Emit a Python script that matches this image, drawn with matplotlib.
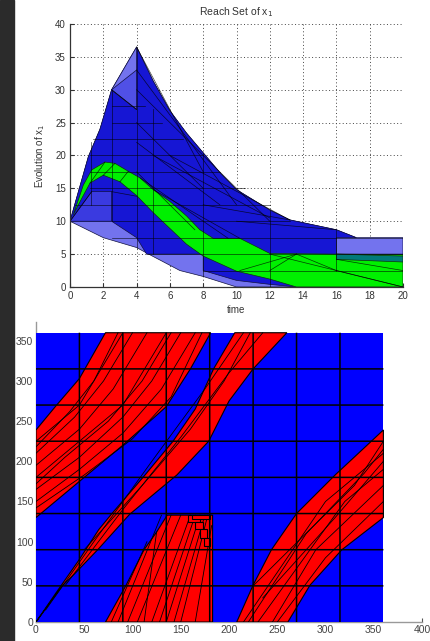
import matplotlib
matplotlib.use("Agg")
import matplotlib.pyplot as plt
from matplotlib.patches import Polygon, Rectangle

plt.rcParams['font.family'] = ['Liberation Sans', 'DejaVu Sans']

# ---------------- top panel data (time, x1) ----------------
env_t = [0, 1.1, 1.8, 2.5, 4.0, 5.0, 6.0, 7.0, 8.0, 9.0, 10.0, 12.0, 13.2, 16.0, 17.2, 20, 20, 13.6, 10.0, 8.0, 6.6, 4.8, 4.0, 2.0]
env_y = [10, 19.8, 24, 30, 36.5, 31.3, 26.8, 23.4, 20.4, 17.4, 14.8, 11.7, 10.2, 8.7, 7.5, 7.5, 0, 0, 0, 1.6, 2.5, 4.9, 6.0, 7.5]

dark_t = [0, 1.1, 1.8, 2.5, 4.0, 4.0, 5.0, 6.0, 7.0, 8.0, 9.0, 10.0, 12.0, 13.2, 16.0, 17.2, 16, 16, 20, 20,
          13.6, 12.0, 10.0, 8.0, 8.0, 4.6, 4.0, 2.5]
dark_y = [10, 19.8, 24, 30, 27, 36.5, 31.3, 26.8, 23.4, 20.4, 17.4, 14.8, 11.7, 10.2, 8.7, 7.5, 7.5, 5, 5, 0,
          0, 0.4, 1.0, 2.5, 5, 5, 7.5, 10]

mid_t = [0, 1.3, 2.5, 2.5]
mid_y = [10, 14.5, 14.5, 10]

lightri_t = [2.5, 4.0, 4.0]
lightri_y = [30, 36.5, 27]
semitri_t = [2.5, 4.0, 4.0]
semitri_y = [30, 33, 27]

green_t = [0.2, 0.8, 1.3, 2.1, 2.7, 3.5, 4.2, 5.0, 6.0, 7.0, 7.8, 8.6, 10.2, 12.0, 16.0, 20.0,
           20.0, 13.6, 12.0, 10.0, 8.0, 7.0, 6.0, 5.0, 4.0, 3.0, 2.0, 1.2, 0.5]
green_y = [11.0, 15.5, 17.8, 19.0, 18.8, 17.6, 16.6, 14.8, 13.0, 10.8, 8.7, 7.4, 7.4, 5.1, 5.0, 4.9,
           0.0, 0.0, 1.2, 2.4, 4.7, 6.5, 8.9, 11.3, 13.9, 16.0, 17.0, 15.8, 12.5]

teal_t = [16, 20, 20, 16]
teal_y = [5.0, 4.7, 3.8, 4.2]

# mesh edges: (t0, y0, t1, y1)
mesh_segments = [
    (2.5, 27.5, 4.5, 27.5), (2.5, 25, 5.5, 25), (1.4, 22.5, 6.8, 22.5), (1.2, 20, 8, 20),
    (1.2, 17.5, 9.0, 17.5), (1.2, 15, 10.5, 15), (0.3, 12.5, 12, 12.5), (2.5, 10, 13.2, 10),
    (2.5, 7.5, 20, 7.5), (4.6, 5, 20, 5), (8, 2.5, 20, 2.5),
    (1.25, 12.5, 1.25, 22), (2.5, 10, 2.5, 30), (4, 6, 4, 36.5), (5, 5, 5, 27),
    (8, 1.6, 8, 20.4), (12, 0, 12, 11.7), (16, 2.5, 16, 8.7),
    (4, 36.5, 8, 17.5), (4, 33, 10, 12.5), (4, 30, 12, 10), (2.5, 30, 4, 27),
    (4, 25, 8, 15), (4, 22, 9, 12.5), (5, 20, 12, 10.5), (6, 20, 13.2, 10.2),
    (4, 17.5, 7.5, 8.7), (4.2, 16.6, 9.5, 7.4), (5, 14.8, 10.2, 7.4),
    (10.2, 2.5, 13.6, 5), (12, 2.5, 13.6, 5), (13.6, 5, 16, 2.5), (16, 2.5, 20, 0),
    (12, 5, 20, 0), (1.2, 15.8, 2.1, 19.0), (2.0, 17.0, 2.7, 18.8), (3.0, 16.0, 3.5, 17.6),
    (0, 10, 1.3, 14.5), (2.5, 14.5, 4, 13.8), (16, 4.2, 20, 2.5), (8, 12.5, 13.2, 10.2),
    (10, 10, 16, 8.7),
]

xt1 = [0, 2, 4, 6, 8, 10, 12, 14, 16, 18, 20]
yt1 = [0, 5, 10, 15, 20, 25, 30, 35, 40]

# ---------------- bottom panel data ----------------
band1_x = [0, 45, 90, 135, 160, 181, 72, 45, 20, 0]
band1_y = [130, 175, 220, 268, 315, 360, 360, 303, 268, 239]
band2_x = [0, 20, 45, 65, 78, 113, 142, 165, 184, 206, 260, 225, 200, 179, 146, 97, 64, 40, 28]
band2_y = [0, 35, 78, 115, 134, 183, 225, 265, 315, 360, 360, 315, 275, 225, 183, 134, 90, 60, 46]
band3_x = [72, 93, 112, 125, 136, 183, 183]
band3_y = [0, 45, 90, 112, 133, 133, 0]
band4_x = [208, 225, 244, 270, 310, 360, 360, 317, 284, 261]
band4_y = [0, 46, 90, 135, 183, 239, 130, 90, 46, 0]

strands = [
    ([0, 45, 90, 130, 165], [150, 190, 235, 290, 360]),
    ([0, 45, 90, 120, 150], [165, 205, 255, 300, 360]),
    ([0, 45, 90, 135], [180, 225, 270, 360]),
    ([0, 45, 80, 115], [195, 240, 290, 360]),
    ([0, 40, 70, 100], [210, 255, 300, 360]),
    ([0, 45, 90], [225, 270, 360]),
    ([0, 50, 100, 140, 172], [142, 183, 228, 280, 360]),
    ([0, 30, 75, 110, 140], [172, 205, 250, 300, 360]),
    ([0, 35, 60, 85], [218, 262, 300, 360]),
    ([10, 60, 120, 175, 215], [15, 100, 200, 290, 360]),
    ([30, 90, 150, 200, 235], [45, 140, 230, 310, 360]),
    ([50, 110, 160, 195, 222], [90, 170, 240, 300, 360]),
    ([85, 130], [0, 133]), ([95, 140], [0, 133]), ([105, 150], [0, 133]),
    ([120, 160], [0, 133]), ([135, 170], [0, 133]), ([150, 178], [0, 133]),
    ([165, 182], [0, 120]), ([112, 125], [0, 112]), ([78, 115], [0, 100]),
    ([128, 165], [0, 133]), ([143, 175], [0, 133]),
    ([215, 300, 360], [0, 150, 210]), ([230, 320, 360], [0, 150, 190]),
    ([245, 290, 360], [0, 90, 170]), ([225, 330, 360], [45, 170, 225]),
    ([235, 310, 360], [30, 130, 200]), ([220, 280, 340, 360], [0, 110, 185, 215]),
    ([250, 300, 360], [0, 80, 150]),
]
stairs = [(158, 124, 12, 9), (165, 116, 8, 8), (170, 105, 7, 11), (174, 94, 6, 10), (162, 128, 18, 5)]

grid2 = [45, 90, 135, 180, 225, 270, 315]
xt2 = [0, 50, 100, 150, 200, 250, 300, 350, 400]
yt2 = [0, 50, 100, 150, 200, 250, 300, 350]

# ---------------- figure ----------------
fig = plt.figure(figsize=(4.3, 6.41), dpi=100)
fig.patch.set_facecolor('white')
fig.add_artist(Rectangle((0, 0), 0.0314, 1, transform=fig.transFigure, color='#2b2b2b', zorder=0))

ax1 = fig.add_axes([0.1628, 0.5523, 0.7744, 0.4103])
ax1.set_xlim(0, 20)
ax1.set_ylim(0, 40)
ax1.set_axisbelow(True)
ax1.grid(True, linestyle=(0, (1, 2.5)), color='#444444', lw=0.7)
for s in ['top', 'right']:
    ax1.spines[s].set_visible(False)
for s in ['left', 'bottom']:
    ax1.spines[s].set_color('#333333')
    ax1.spines[s].set_linewidth(0.9)
ax1.set_xticks(xt1)
ax1.set_yticks(yt1)
ax1.tick_params(direction='in', length=3, labelsize=7, colors='#333333', pad=3)

ax1.add_patch(Polygon(list(zip(env_t, env_y)), closed=True, fc='#7373ee', ec='#101040', lw=0.5))
ax1.add_patch(Polygon(list(zip(dark_t, dark_y)), closed=True, fc='#1616d4', ec='#101040', lw=0.5))
ax1.add_patch(Polygon(list(zip(mid_t, mid_y)), closed=True, fc='#3a3ae0', ec='#101040', lw=0.5))
ax1.add_patch(Polygon(list(zip(lightri_t, lightri_y)), closed=True, fc='#7373ee', ec='#101040', lw=0.5))
ax1.add_patch(Polygon(list(zip(semitri_t, semitri_y)), closed=True, fc='#5050e6', ec='#101040', lw=0.5))
ax1.add_patch(Polygon(list(zip(green_t, green_y)), closed=True, fc='#00f000', ec='#103010', lw=0.5))
ax1.add_patch(Polygon(list(zip(teal_t, teal_y)), closed=True, fc='#007a7a', ec='#103010', lw=0.5))
for t0, y0, t1, y1 in mesh_segments:
    ax1.plot([t0, t1], [y0, y1], color='black', lw=0.5, alpha=0.75)

ax1.set_title('Reach Set of x$_1$', fontsize=7.5, color='#333333', pad=6)
ax1.set_xlabel('time', fontsize=7, color='#333333', labelpad=3)
ax1.set_ylabel('Evolution of x$_1$', fontsize=7, color='#333333', labelpad=6)

ax2 = fig.add_axes([0.0837, 0.0296, 0.8977, 0.468])
ax2.set_xlim(0, 400)
ax2.set_ylim(0, 373.3)
for s in ['top', 'right']:
    ax2.spines[s].set_visible(False)
for s in ['left', 'bottom']:
    ax2.spines[s].set_color('#999999')
    ax2.spines[s].set_linewidth(1.0)
ax2.set_xticks(xt2)
ax2.set_yticks(yt2)
ax2.tick_params(direction='in', length=3, labelsize=7.5, colors='#555555', pad=2)
for lab in ax2.get_xticklabels() + ax2.get_yticklabels():
    lab.set_color('#444444')

ax2.add_patch(Rectangle((0, 0), 360, 360, fc='#0000ff', ec='none', zorder=3))
for bx, by in [(band1_x, band1_y), (band2_x, band2_y), (band3_x, band3_y), (band4_x, band4_y)]:
    ax2.add_patch(Polygon(list(zip(bx, by)), closed=True, fc='#ff0000', ec='black', lw=0.8, zorder=4))
for sx, sy in strands:
    ax2.plot(sx, sy, color='black', lw=0.6, zorder=5)
for x0, y0, w, h in stairs:
    ax2.add_patch(Rectangle((x0, y0), w, h, fc='#ff0000', ec='black', lw=0.8, zorder=5))
for g in grid2:
    ax2.plot([g, g], [0, 360], color='black', lw=1.1, zorder=6, solid_capstyle='butt', snap=False)
    ax2.plot([0, 360], [g, g], color='black', lw=1.1, zorder=6, solid_capstyle='butt', snap=False)

fig.savefig('out.png', dpi=100)
